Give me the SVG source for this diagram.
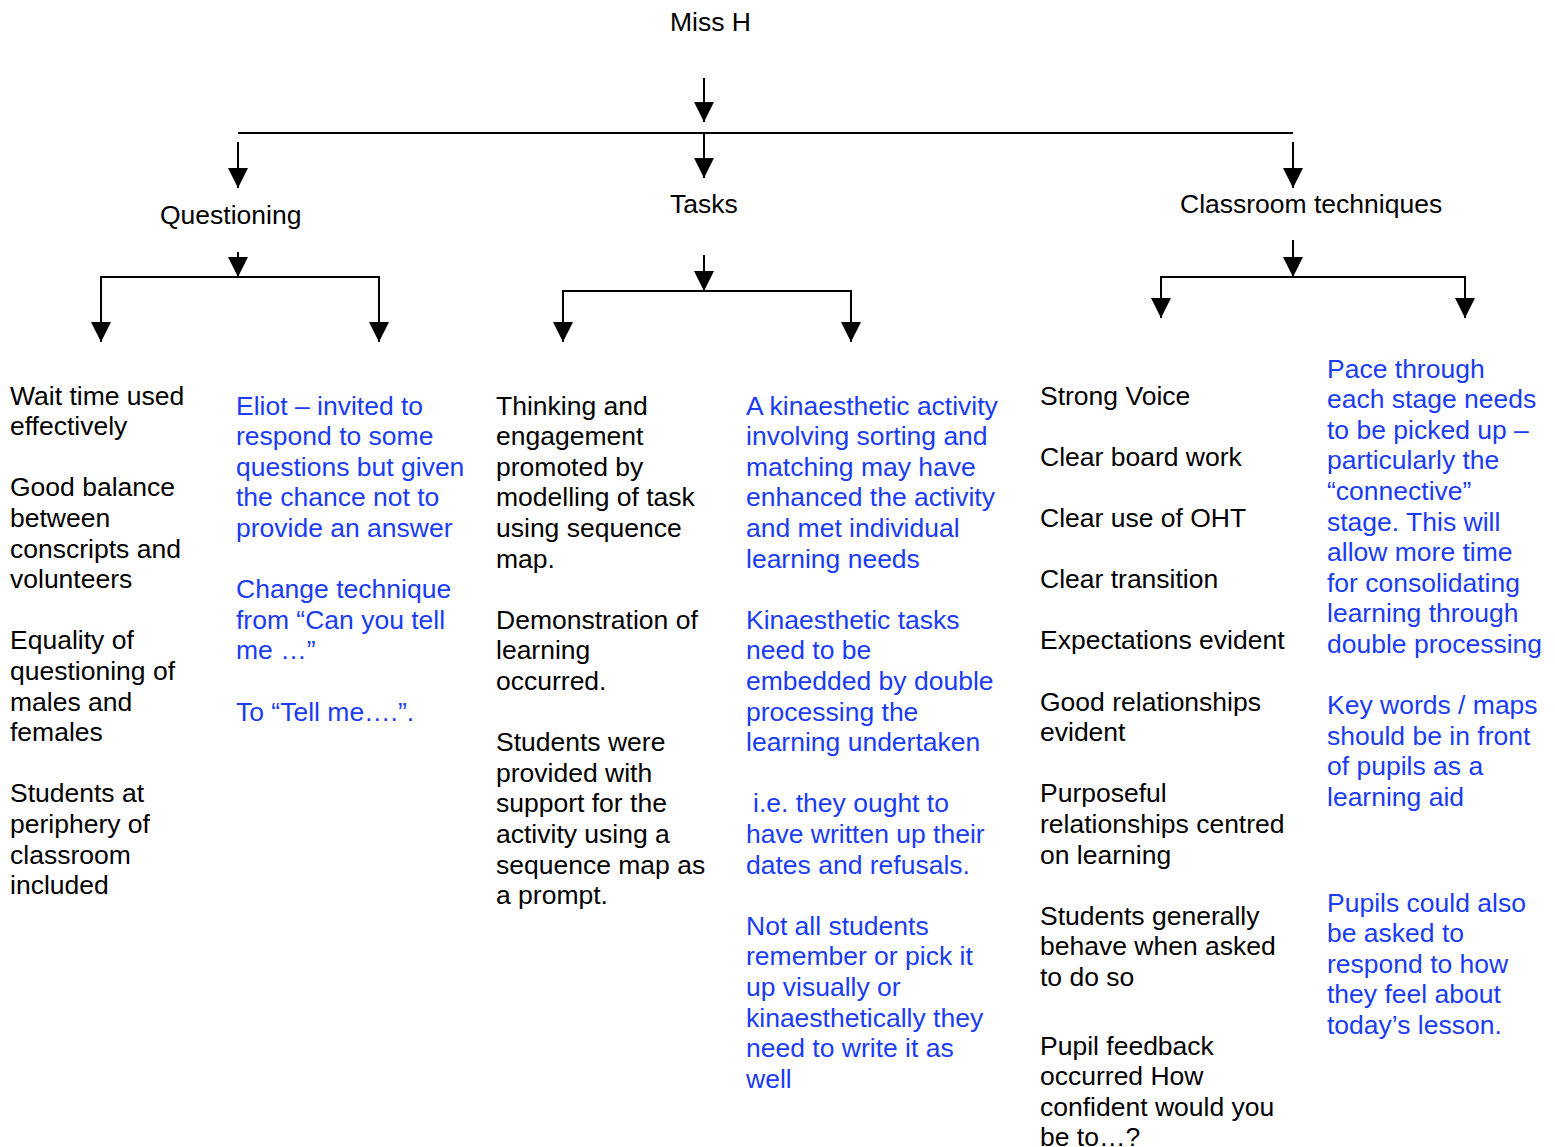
<svg xmlns="http://www.w3.org/2000/svg" width="1555" height="1147" viewBox="0 0 1555 1147">
<defs>
<style>
text{font-family:"Liberation Sans",Arial,sans-serif;font-size:26.5px;fill:#000}
.b{fill:#1a3cf5}
.c line{stroke:#000;stroke-width:2;fill:none}
</style>
<marker id="ah" markerUnits="userSpaceOnUse" markerWidth="20" markerHeight="20" refX="20" refY="10" orient="auto" viewBox="0 0 20 20"><path d="M0,0 L20,10 L0,20 z" fill="#000"/></marker>
</defs>
<rect width="1555" height="1147" fill="#fff"/>
<g id="connectors" class="c">
<line x1="704" y1="78" x2="704" y2="122" marker-end="url(#ah)"/>
<line x1="238" y1="133" x2="1293" y2="133"/>
<line x1="238" y1="142" x2="238" y2="188" marker-end="url(#ah)"/>
<line x1="704" y1="133" x2="704" y2="178" marker-end="url(#ah)"/>
<line x1="1293" y1="142" x2="1293" y2="188" marker-end="url(#ah)"/>
<line x1="238" y1="252" x2="238" y2="277" marker-end="url(#ah)"/>
<line x1="101" y1="277" x2="379" y2="277"/>
<line x1="101" y1="276" x2="101" y2="342" marker-end="url(#ah)"/>
<line x1="379" y1="276" x2="379" y2="342" marker-end="url(#ah)"/>
<line x1="704" y1="255" x2="704" y2="291" marker-end="url(#ah)"/>
<line x1="563" y1="291" x2="851" y2="291"/>
<line x1="563" y1="290" x2="563" y2="342" marker-end="url(#ah)"/>
<line x1="851" y1="290" x2="851" y2="342" marker-end="url(#ah)"/>
<line x1="1293" y1="240" x2="1293" y2="277" marker-end="url(#ah)"/>
<line x1="1160" y1="277" x2="1466" y2="277"/>
<line x1="1161" y1="276" x2="1161" y2="318" marker-end="url(#ah)"/>
<line x1="1465" y1="276" x2="1465" y2="318" marker-end="url(#ah)"/>
</g>
<g id="miss-h"><text x="670" y="31">Miss H</text></g>
<g id="questioning"><text x="160" y="224">Questioning</text></g>
<g id="tasks"><text x="670" y="213">Tasks</text></g>
<g id="classroom-techniques"><text x="1180" y="213">Classroom techniques</text></g>
<g id="questioning-strengths"><text x="10" y="404.5">
<tspan x="10">Wait time used</tspan><tspan x="10" dy="30.6">effectively</tspan>
<tspan x="10" dy="61.2">Good balance</tspan><tspan x="10" dy="30.6">between</tspan><tspan x="10" dy="30.6">conscripts and</tspan><tspan x="10" dy="30.6">volunteers</tspan>
<tspan x="10" dy="61.2">Equality of</tspan><tspan x="10" dy="30.6">questioning of</tspan><tspan x="10" dy="30.6">males and</tspan><tspan x="10" dy="30.6">females</tspan>
<tspan x="10" dy="61.2">Students at</tspan><tspan x="10" dy="30.6">periphery of</tspan><tspan x="10" dy="30.6">classroom</tspan><tspan x="10" dy="30.6">included</tspan>
</text></g>
<g id="questioning-targets"><text class="b" x="236" y="414.5">
<tspan x="236">Eliot – invited to</tspan><tspan x="236" dy="30.6">respond to some</tspan><tspan x="236" dy="30.6">questions but given</tspan><tspan x="236" dy="30.6">the chance not to</tspan><tspan x="236" dy="30.6">provide an answer</tspan>
<tspan x="236" dy="61.2">Change technique</tspan><tspan x="236" dy="30.6">from “Can you tell</tspan><tspan x="236" dy="30.6">me …”</tspan>
<tspan x="236" dy="61.2">To “Tell me….”.</tspan>
</text></g>
<g id="tasks-strengths"><text x="496" y="414.5">
<tspan x="496">Thinking and</tspan><tspan x="496" dy="30.6">engagement</tspan><tspan x="496" dy="30.6">promoted by</tspan><tspan x="496" dy="30.6">modelling of task</tspan><tspan x="496" dy="30.6">using sequence</tspan><tspan x="496" dy="30.6">map.</tspan>
<tspan x="496" dy="61.2">Demonstration of</tspan><tspan x="496" dy="30.6">learning</tspan><tspan x="496" dy="30.6">occurred.</tspan>
<tspan x="496" dy="61.2">Students were</tspan><tspan x="496" dy="30.6">provided with</tspan><tspan x="496" dy="30.6">support for the</tspan><tspan x="496" dy="30.6">activity using a</tspan><tspan x="496" dy="30.6">sequence map as</tspan><tspan x="496" dy="30.6">a prompt.</tspan>
</text></g>
<g id="tasks-targets"><text class="b" x="746" y="414.5">
<tspan x="746">A kinaesthetic activity</tspan><tspan x="746" dy="30.6">involving sorting and</tspan><tspan x="746" dy="30.6">matching may have</tspan><tspan x="746" dy="30.6">enhanced the activity</tspan><tspan x="746" dy="30.6">and met individual</tspan><tspan x="746" dy="30.6">learning needs</tspan>
<tspan x="746" dy="61.2">Kinaesthetic tasks</tspan><tspan x="746" dy="30.6">need to be</tspan><tspan x="746" dy="30.6">embedded by double</tspan><tspan x="746" dy="30.6">processing the</tspan><tspan x="746" dy="30.6">learning undertaken</tspan>
<tspan x="753" dy="61.2">i.e. they ought to</tspan><tspan x="746" dy="30.6">have written up their</tspan><tspan x="746" dy="30.6">dates and refusals.</tspan>
<tspan x="746" dy="61.2">Not all students</tspan><tspan x="746" dy="30.6">remember or pick it</tspan><tspan x="746" dy="30.6">up visually or</tspan><tspan x="746" dy="30.6">kinaesthetically they</tspan><tspan x="746" dy="30.6">need to write it as</tspan><tspan x="746" dy="30.6">well</tspan>
</text></g>
<g id="classroom-strengths"><text x="1040" y="404.5">
<tspan x="1040">Strong Voice</tspan>
<tspan x="1040" dy="61.2">Clear board work</tspan>
<tspan x="1040" dy="61.2">Clear use of OHT</tspan>
<tspan x="1040" dy="61.2">Clear transition</tspan>
<tspan x="1040" dy="61.2">Expectations evident</tspan>
<tspan x="1040" dy="61.2">Good relationships</tspan><tspan x="1040" dy="30.6">evident</tspan>
<tspan x="1040" dy="61.2">Purposeful</tspan><tspan x="1040" dy="30.6">relationships centred</tspan><tspan x="1040" dy="30.6">on learning</tspan>
<tspan x="1040" dy="61.2">Students generally</tspan><tspan x="1040" dy="30.6">behave when asked</tspan><tspan x="1040" dy="30.6">to do so</tspan>
</text>
<text x="1040" y="1054.5"><tspan x="1040">Pupil feedback</tspan><tspan x="1040" dy="30.6">occurred How</tspan><tspan x="1040" dy="30.6">confident would you</tspan><tspan x="1040" dy="30.6">be to…?</tspan></text></g>
<g id="classroom-targets"><text class="b" x="1327" y="377.5">
<tspan x="1327">Pace through</tspan><tspan x="1327" dy="30.6">each stage needs</tspan><tspan x="1327" dy="30.6">to be picked up –</tspan><tspan x="1327" dy="30.6">particularly the</tspan><tspan x="1327" dy="30.6">“connective”</tspan><tspan x="1327" dy="30.6">stage. This will</tspan><tspan x="1327" dy="30.6">allow more time</tspan><tspan x="1327" dy="30.6">for consolidating</tspan><tspan x="1327" dy="30.6">learning through</tspan><tspan x="1327" dy="30.6">double processing</tspan>
<tspan x="1327" dy="61.2">Key words / maps</tspan><tspan x="1327" dy="30.6">should be in front</tspan><tspan x="1327" dy="30.6">of pupils as a</tspan><tspan x="1327" dy="30.6">learning aid</tspan>
</text>
<text class="b" x="1327" y="911.5"><tspan x="1327">Pupils could also</tspan><tspan x="1327" dy="30.6">be asked to</tspan><tspan x="1327" dy="30.6">respond to how</tspan><tspan x="1327" dy="30.6">they feel about</tspan><tspan x="1327" dy="30.6">today’s lesson.</tspan></text></g>
</svg>
